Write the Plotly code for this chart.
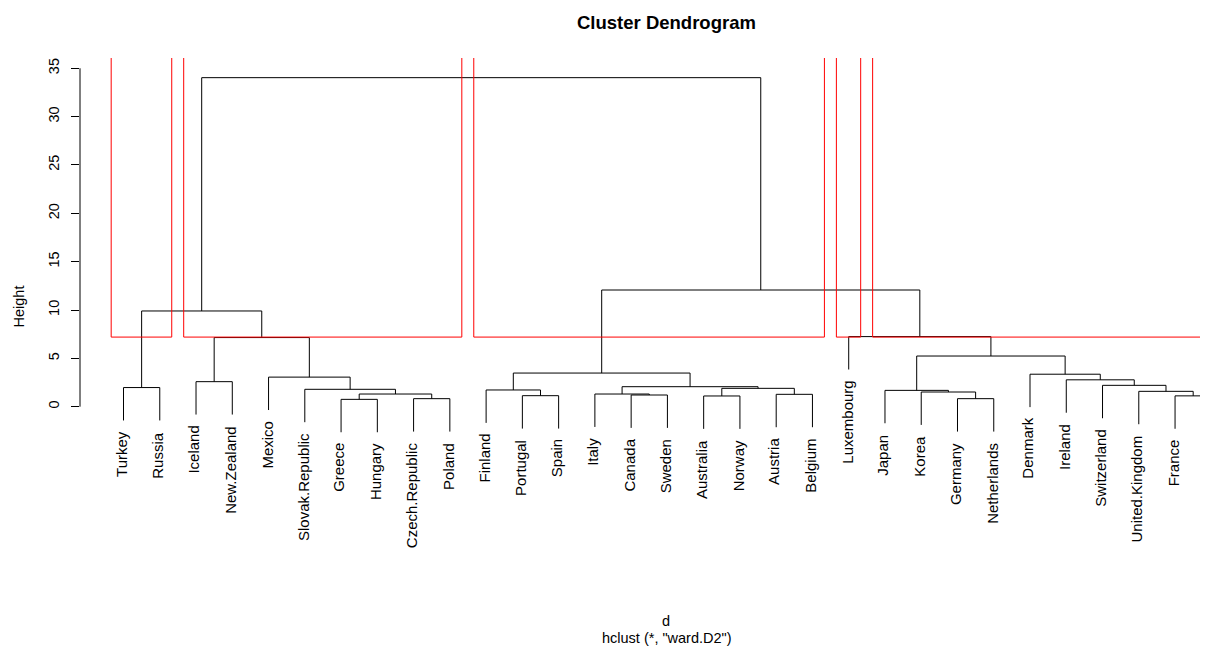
import plotly.graph_objects as go

# ---------------- data ----------------
labels = ["Turkey", "Russia", "Iceland", "New.Zealand", "Mexico", "Slovak.Republic",
          "Greece", "Hungary", "Czech.Republic", "Poland", "Finland", "Portugal", "Spain",
          "Italy", "Canada", "Sweden", "Australia", "Norway", "Austria", "Belgium",
          "Luxembourg", "Japan", "Korea", "Germany", "Netherlands", "Denmark", "Ireland",
          "Switzerland", "United.Kingdom", "France", "United.States"]

# R-style merge matrix: negative = leaf (1-based position), positive = earlier merge row
merge_left = [-7, -9, -24, -30, -17, -12, -15, -19, -14, 1, -23, -29, -22, -11, -6,
              5, -1, 9, -28, -3, -27, -5, -26, 14, 13, 20, -21, 17, 24, 28]
merge_right = [-8, -10, -25, -31, -18, -13, -16, -20, 7, 2, 3, 4, 11, 6, 10,
               8, -2, 16, 12, -4, 19, 15, 21, 18, 23, 22, 25, 26, 27, 29]
merge_height = [0.76, 0.83, 0.83, 1.12, 1.11, 1.14, 1.21, 1.28, 1.31, 1.31, 1.52,
                1.59, 1.69, 1.73, 1.80, 1.90, 1.98, 2.07, 2.21, 2.59, 2.78, 3.06,
                3.36, 3.48, 5.24, 7.15, 7.25, 9.90, 12.07, 34.03]

# clusters from cutree(k = 5), as (first leaf, last leaf)
cluster_first = [1, 3, 11, 21, 22]
cluster_last = [2, 10, 20, 21, 31]

y_ticks = [0, 5, 10, 15, 20, 25, 30, 35]

title_text = "Cluster Dendrogram"
xlab_text = "d"
sub_text = 'hclust (*, "ward.D2")'
ylab_text = "Height"

# ---------------- layout of the tree ----------------
hang = 0.1 * max(merge_height)
n_leaves = len(labels)
pos = {}      # merge row -> (x, height)
seg_x, seg_y = [], []
leaf_end = [None] * n_leaves


def child(c):
    if c < 0:
        return float(-c), None
    return pos[c]


for r in range(len(merge_height)):
    h = merge_height[r]
    xs = []
    for c in (merge_left[r], merge_right[r]):
        cx, ch = child(c)
        if ch is None:
            bottom = h - hang
            leaf_end[-c - 1] = bottom
        else:
            bottom = ch
        seg_x += [cx, cx, None]
        seg_y += [bottom, h, None]
        xs.append(cx)
    seg_x += [xs[0], xs[1], None]
    seg_y += [h, h, None]
    pos[r + 1] = ((xs[0] + xs[1]) / 2.0, h)

srt = sorted(merge_height, reverse=True)
cut_h = (srt[3] + srt[4]) / 2.0
rect_top = 50.0
rx, ry = [], []
for a, b in zip(cluster_first, cluster_last):
    x0, x1 = a - 0.34, b + 0.33
    rx += [x0, x0, x1, x1, x0, None]
    ry += [rect_top, cut_h, cut_h, rect_top, rect_top, None]

FONT = "Liberation Sans, Arial, Helvetica, sans-serif"
FS = 14.5
FS_LAB = 15

fig = go.Figure()
fig.add_trace(go.Scatter(x=seg_x, y=seg_y, mode="lines",
                         line=dict(color="black", width=1), hoverinfo="skip",
                         showlegend=False))
fig.add_trace(go.Scatter(x=rx, y=ry, mode="lines",
                         line=dict(color="#ff0000", width=1), hoverinfo="skip",
                         showlegend=False))

# page body has an 8px margin; the figure is sized/positioned to compensate
OFF = 8
W, H = 1208 - OFF, 646 - OFF
ml, mr, mt, mb = 80 - OFF, 0, 58 - OFF, 66
px_per_leaf = 36.26
x_lo = -0.2
x_hi = x_lo + (W - ml - mr) / px_per_leaf
px_per_unit = 9.669
y0_px = 406.7 - OFF
y_hi = (y0_px - mt) / px_per_unit
y_lo = (y0_px - (H - mb)) / px_per_unit

plot_w = W - ml - mr
plot_h = H - mt - mb


def data_to_paper_x(v):
    return (v - x_lo) / (x_hi - x_lo)


def px_to_paper_x(px):
    return (px - OFF - ml) / plot_w


def px_to_paper_y(py):
    return (H - mb - (py - OFF)) / plot_h


annotations = []
for i, lab in enumerate(labels):
    annotations.append(dict(x=data_to_paper_x(i + 1), y=leaf_end[i], xref="paper", yref="y",
                            text=lab, textangle=-90, showarrow=False, xanchor="center",
                            yanchor="top", yshift=-9, xshift=-2,
                            font=dict(family=FONT, size=FS_LAB, color="black")))

annotations.append(dict(x=px_to_paper_x(666), y=px_to_paper_y(621), xref="paper", yref="paper",
                        text=xlab_text, showarrow=False, xanchor="center", yanchor="middle",
                        font=dict(family=FONT, size=FS, color="black")))
annotations.append(dict(x=px_to_paper_x(667), y=px_to_paper_y(638), xref="paper", yref="paper",
                        text=sub_text, showarrow=False, xanchor="center", yanchor="middle",
                        font=dict(family=FONT, size=FS, color="black")))
annotations.append(dict(x=px_to_paper_x(18.5), y=px_to_paper_y(307), xref="paper", yref="paper",
                        text=ylab_text, textangle=-90, showarrow=False, xanchor="center",
                        yanchor="middle", font=dict(family=FONT, size=FS, color="black")))
annotations.append(dict(x=px_to_paper_x(666.5), y=px_to_paper_y(22), xref="paper", yref="paper",
                        text="<b>" + title_text + "</b>", showarrow=False, xanchor="center",
                        yanchor="middle", font=dict(family=FONT, size=18.5, color="black")))

fig.update_layout(
    width=W, height=H,
    margin=dict(l=ml, r=mr, t=mt, b=mb, pad=0),
    paper_bgcolor="white", plot_bgcolor="white",
    showlegend=False,
    annotations=annotations,
    shapes=[dict(type="line", xref="paper", yref="y", x0=0, x1=0,
                 y0=min(y_ticks), y1=max(y_ticks), layer="above",
                 line=dict(color="black", width=1))],
    xaxis=dict(range=[x_lo, x_hi], visible=False, showgrid=False, zeroline=False,
               fixedrange=True),
    yaxis=dict(range=[y_lo, y_hi], showgrid=False, zeroline=False, showline=False,
               tickmode="array", tickvals=y_ticks, ticktext=[str(v) for v in y_ticks],
               ticks="outside", ticklen=8, tickwidth=1, tickcolor="black",
               tickangle=-90, ticklabelstandoff=6,
               tickfont=dict(family=FONT, size=FS, color="black"), fixedrange=True),
)

fig.write_html("out.html")
